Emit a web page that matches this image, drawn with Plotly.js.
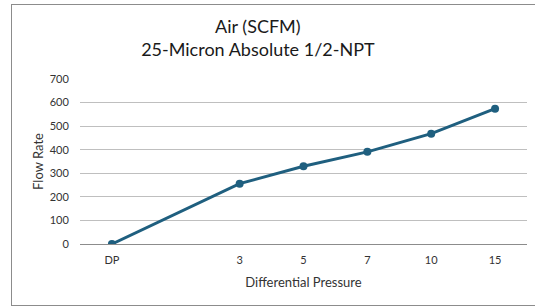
<!DOCTYPE html>
<html><head><meta charset="utf-8">
<script src="https://cdn.plot.ly/plotly-3.0.1.min.js"></script>
<style>
html,body{margin:0;padding:0;background:#fff;}
#wrap{position:relative;width:535px;height:307px;overflow:hidden;}
#plot{position:absolute;left:0;top:0;width:535px;height:307px;}
#frame{position:absolute;left:11px;top:4px;width:540px;height:300px;border:1.5px solid #8c8c8c;pointer-events:none;}
</style>
</head><body>
<div id="wrap"><div id="plot"></div><div id="frame"></div></div>
<script>
const categories = ["DP", " ", "3", "5", "7", "10", "15"];
const flowRate = [0, null, 256, 330, 391, 468, 574];
const yTicks = [0, 100, 200, 300, 400, 500, 600, 700];

const trace = {
  x: categories,
  y: flowRate,
  type: 'scatter',
  mode: 'lines+markers',
  connectgaps: true,
  line: {color: '#1f5f7f', width: 3},
  marker: {color: '#1f5f7f', size: 8},
  hoverinfo: 'skip'
};

const font = "Lato, 'Open Sans', sans-serif";
const layout = {
  width: 535, height: 307,
  margin: {l: 80, r: 8, t: 79, b: 63},
  paper_bgcolor: '#fff', plot_bgcolor: '#fff',
  showlegend: false,
  font: {family: font, size: 11, color: '#333333'},
  title: {
    text: 'Air (SCFM)<br>25-Micron Absolute 1/2-NPT',
    font: {family: font, size: 18, color: '#1a1a1a'},
    x: 0.482, xref: 'container', xanchor: 'center',
    y: 0.893, yref: 'container', yanchor: 'top'
  },
  xaxis: {
    type: 'category',
    categoryorder: 'array', categoryarray: categories,
    range: [-0.5, 6.5],
    showgrid: false, zeroline: false,
    showline: true, linecolor: '#8c8c8c', linewidth: 1,
    ticks: 'outside', ticklen: 6, tickcolor: 'rgba(0,0,0,0)',
    tickfont: {family: font, size: 11, color: '#333333'},
    title: {text: 'Differential Pressure', font: {family: font, size: 13, color: '#333333'}, standoff: 12}
  },
  yaxis: {
    range: [0, 700],
    tickvals: yTicks,
    showgrid: true, gridcolor: '#bfbfbf', gridwidth: 1,
    zeroline: false, showline: false,
    ticks: 'outside', ticklen: 8, tickcolor: 'rgba(0,0,0,0)',
    tickfont: {family: font, size: 11, color: '#333333'},
    title: {text: 'Flow Rate', font: {family: font, size: 13, color: '#333333'}, standoff: 3}
  }
};

Plotly.newPlot('plot', [trace], layout, {displayModeBar: false, staticPlot: true});
</script>
</body></html>
